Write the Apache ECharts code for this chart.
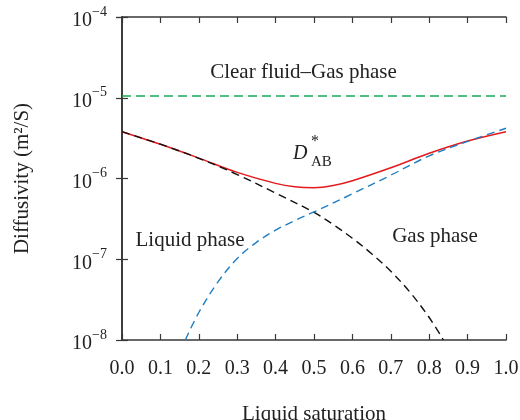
<!DOCTYPE html>
<html>
<head>
<meta charset="utf-8">
<style>
  html, body { margin: 0; padding: 0; background: #fff; }
  #chart { width: 520px; height: 420px; }
</style>
<script src="https://cdn.jsdelivr.net/npm/echarts@6/dist/echarts.min.js"></script>
</head>
<body>
<div id="chart"></div>
<script>
// Liquid saturation ticks
const xTicks = [0, 0.1, 0.2, 0.3, 0.4, 0.5, 0.6, 0.7, 0.8, 0.9, 1.0];

// Liquid-phase diffusivity (black dashed)
const liquidS = [0, 0.1, 0.2, 0.3, 0.4, 0.5, 0.55, 0.6, 0.65, 0.7, 0.75, 0.8, 0.837];
const liquidD = [3.8e-6, 2.66e-6, 1.78e-6, 1.12e-6, 6.6e-7, 3.8e-7, 2.69e-7, 1.82e-7, 1.17e-7, 7.1e-8, 3.9e-8, 1.9e-8, 1.0e-8];

// Gas-phase diffusivity (blue dashed)
const gasS = [0.165, 0.2, 0.25, 0.3, 0.35, 0.4, 0.45, 0.5, 0.6, 0.7, 0.8, 0.9, 1.0];
const gasD = [1.0e-8, 2.19e-8, 5.25e-8, 1.02e-7, 1.62e-7, 2.29e-7, 3.02e-7, 3.85e-7, 6.46e-7, 1.10e-6, 1.91e-6, 2.88e-6, 4.19e-6];

// Effective diffusivity D*_AB (red solid)
const effS = [0, 0.1, 0.2, 0.3, 0.4, 0.45, 0.5, 0.55, 0.6, 0.7, 0.8, 0.9, 1.0];
const effD = [3.8e-6, 2.65e-6, 1.79e-6, 1.19e-6, 8.7e-7, 7.9e-7, 7.7e-7, 8.2e-7, 9.4e-7, 1.36e-6, 2.05e-6, 2.91e-6, 3.8e-6];

// Clear fluid–gas phase level (green dashed)
const clearS = [0, 1.0];
const clearD = [1.05e-5, 1.05e-5];

const FONT = '"Liberation Serif", "Times New Roman", serif';
const TXT = '#222';
const AX = '#383838';

const pairs = (xs, ys) => xs.map((x, i) => [x, ys[i]]);

const chart = echarts.init(document.getElementById('chart'));

const xBase = {
  type: 'value', min: 0, max: 1, interval: 0.1,
  axisLine: { lineStyle: { color: AX, width: 1.6 } },
  axisTick: { inside: true, length: 6, lineStyle: { color: AX, width: 1.2 } },
  splitLine: { show: false }
};
const yBase = {
  type: 'log', logBase: 10, min: 1e-8, max: 1e-4,
  axisLine: { lineStyle: { color: AX, width: 1.6 } },
  axisTick: { inside: true, length: 6, lineStyle: { color: AX, width: 1.2 } },
  minorTick: { show: false },
  splitLine: { show: false }
};

chart.setOption({
  animation: false,
  grid: { left: 122, right: 14, top: 17, bottom: 80, containLabel: false, outerBoundsMode: 'none' },
  xAxis: [
    Object.assign({}, xBase, {
      position: 'bottom',
      name: 'Liquid saturation', nameLocation: 'middle', nameGap: 64,
      nameTextStyle: { fontFamily: FONT, fontSize: 21, color: TXT },
      axisLabel: {
        margin: 19, fontFamily: FONT, fontSize: 20, color: TXT,
        formatter: v => v.toFixed(1)
      }
    }),
    Object.assign({}, xBase, { position: 'top', axisLabel: { show: false } })
  ],
  yAxis: [
    Object.assign({}, yBase, {
      position: 'left',
      name: 'Diffusivity (m²/S)', nameLocation: 'middle', nameGap: 89, nameRotate: 90,
      nameTextStyle: { fontFamily: FONT, fontSize: 21, color: TXT },
      axisLabel: {
        margin: 15, color: TXT,
        formatter: v => '{b|10}{s|\u2212' + Math.round(-Math.log10(v)) + '}',
        rich: {
          b: { fontFamily: FONT, fontSize: 20, lineHeight: 20, padding: [8, 0, 0, 0], color: TXT },
          s: { fontFamily: FONT, fontSize: 14, lineHeight: 14, padding: [0, 0, 10, 0], color: TXT }
        }
      }
    }),
    Object.assign({}, yBase, { position: 'right', axisLabel: { show: false } })
  ],
  series: [
    {
      name: 'Clear fluid–Gas phase', type: 'line', data: pairs(clearS, clearD),
      symbol: 'none', lineStyle: { color: '#17a858', width: 1.5, type: [9, 5] }
    },
    {
      name: 'D*AB', type: 'line', data: pairs(effS, effD),
      symbol: 'none', smooth: 0.35,
      lineStyle: { color: '#e41a1c', width: 1.5 }
    },
    {
      name: 'Liquid phase', type: 'line', data: pairs(liquidS, liquidD),
      symbol: 'none', smooth: 0.35,
      lineStyle: { color: '#111', width: 1.4, type: [8, 5] }
    },
    {
      name: 'Gas phase', type: 'line', data: pairs(gasS, gasD),
      symbol: 'none', smooth: 0.35,
      lineStyle: { color: '#1f7ec2', width: 1.4, type: [8, 5] }
    }
  ],
  graphic: [
    { type: 'text', x: 303.5, y: 72, style: { text: 'Clear fluid–Gas phase', font: '21px ' + FONT, fill: TXT, align: 'center', verticalAlign: 'middle' } },
    { type: 'text', x: 190, y: 240, style: { text: 'Liquid phase', font: '21px ' + FONT, fill: TXT, align: 'center', verticalAlign: 'middle' } },
    { type: 'text', x: 435, y: 236, style: { text: 'Gas phase', font: '21px ' + FONT, fill: TXT, align: 'center', verticalAlign: 'middle' } },
    { type: 'text', x: 293, y: 154, style: { text: 'D', font: 'italic 20px ' + FONT, fill: TXT, align: 'left', verticalAlign: 'middle' } },
    { type: 'text', x: 311, y: 142, style: { text: '*', font: '16px ' + FONT, fill: TXT, align: 'left', verticalAlign: 'middle' } },
    { type: 'text', x: 311, y: 162, style: { text: 'AB', font: '15px ' + FONT, fill: TXT, align: 'left', verticalAlign: 'middle' } }
  ]
});
</script>
</body>
</html>
